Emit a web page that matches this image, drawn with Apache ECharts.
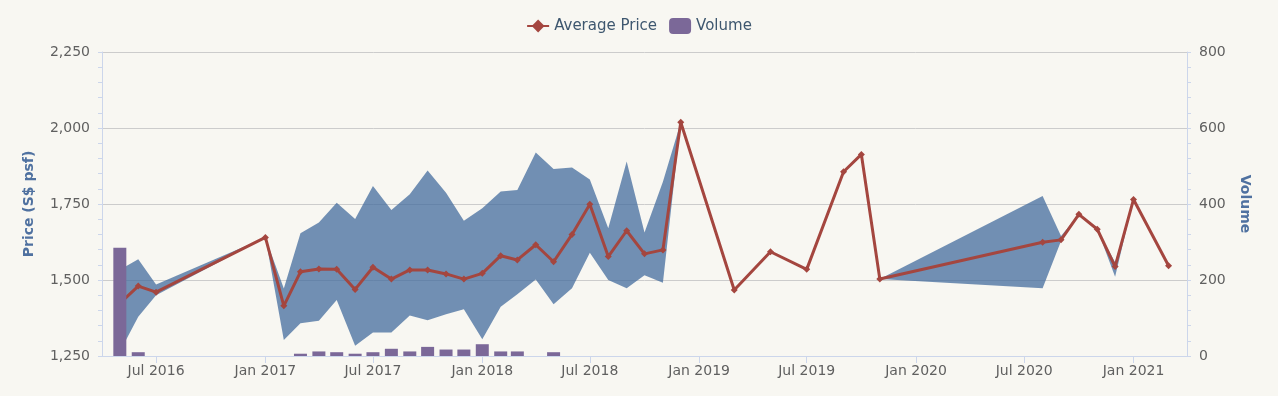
<!DOCTYPE html>
<html>
<head>
<meta charset="utf-8">
<script src="https://cdn.jsdelivr.net/npm/echarts@6/dist/echarts.min.js"></script>
<style>
  html, body { margin: 0; padding: 0; background: #f8f7f2; }
  #chart { width: 1278px; height: 396px; }
</style>
</head>
<body>
<div id="chart"></div>
<script>
// ---- Data ----
const months = ['2016-05','2016-06','2016-07','2017-01','2017-02','2017-03','2017-04','2017-05','2017-06','2017-07',
                '2017-08','2017-09','2017-10','2017-11','2017-12','2018-01','2018-02','2018-03','2018-04','2018-05',
                '2018-06','2018-07','2018-08','2018-09','2018-10','2018-11','2018-12','2019-03','2019-05','2019-07',
                '2019-09','2019-10','2019-11','2020-08','2020-09','2020-10','2020-11','2020-12','2021-01','2021-03'];
const avgPrice = [1423,1480,1460,1640,1415,1527,1536,1535,1469,1542,
                  1503,1533,1533,1520,1503,1522,1580,1566,1616,1560,
                  1650,1749,1577,1662,1586,1599,2019,1467,1593,1535,
                  1856,1913,1503,1624,1632,1716,1667,1544,1765,1547];
const lowPrice = [1264,1379,1450,1640,1303,1358,1366,1434,1284,1327,
                  1327,1383,1368,1387,1404,1305,1412,1453,1502,1420,
                  1473,1590,1500,1473,1516,1491,2019,1467,1593,1535,
                  1856,1913,1503,1473,1628,1716,1667,1511,1765,1547];
const highPrice = [1534,1568,1485,1640,1472,1654,1689,1754,1701,1809,
                   1730,1782,1860,1787,1695,1736,1791,1796,1919,1865,
                   1870,1831,1670,1890,1656,1823,2019,1467,1593,1535,
                   1856,1913,1503,1776,1645,1716,1667,1558,1765,1547];
const volume = [285,10,0,0,0,6,12,10,6,10,
                19,12,24,17,17,31,12,12,0,10,
                0,0,0,0,0,0,0,0,0,0,
                0,0,0,0,0,0,0,0,0,0];
const xTickDates = ['2016-07','2017-01','2017-07','2018-01','2018-07','2019-01','2019-07','2020-01','2020-07','2021-01'];
const xTickLabels = ['Jul 2016','Jan 2017','Jul 2017','Jan 2018','Jul 2018','Jan 2019','Jul 2019','Jan 2020','Jul 2020','Jan 2021'];
const xRange = ['2016-04','2021-04'];
const priceTicks = [1250, 2250, 250];
const volumeTicks = [0, 800, 200];

// ---- Helpers ----
function ts(m) { const p = m.split('-'); return Date.UTC(+p[0], +p[1] - 1, 1); }
const tickTs = xTickDates.map(ts);
function labelFor(v) {
  let best = '', bd = Infinity;
  tickTs.forEach((t, i) => { const d = Math.abs(t - v); if (d < bd) { bd = d; best = xTickLabels[i]; } });
  return bd < 86400000 * 2 ? best : '';
}

// band data is [value, time] so that the value dimension is the stacked one
const lowData = months.map((m, i) => [lowPrice[i], ts(m)]);
const diffData = months.map((m, i) => [highPrice[i] - lowPrice[i], ts(m)]);
const avgData = months.map((m, i) => [ts(m), avgPrice[i]]);
const volData = months.map((m, i) => [ts(m), volume[i]]);

const FONT = 'DejaVu Sans';
const axisLineColor = '#ccd6eb';

const chart = echarts.init(document.getElementById('chart'), null, { renderer: 'canvas' });
chart.setOption({
  backgroundColor: '#f8f7f2',
  animation: false,
  textStyle: { fontFamily: FONT },
  legend: {
    data: ['Average Price', 'Volume'],
    top: 18,
    left: 'center',
    padding: 0,
    itemWidth: 22,
    itemHeight: 16,
    itemGap: 12,
    textStyle: { fontSize: 15, color: '#3e576f', fontFamily: FONT }
  },
  grid: { left: 102, right: 91, top: 52, bottom: 40, containLabel: false },
  xAxis: {
    type: 'value',
    min: ts(xRange[0]),
    max: ts(xRange[1]),
    axisLine: { show: true, lineStyle: { color: axisLineColor, width: 1 } },
    axisTick: { show: true, length: 7, lineStyle: { color: axisLineColor }, customValues: tickTs },
    axisLabel: {
      customValues: tickTs,
      margin: 8,
      fontSize: 14,
      color: '#606060',
      fontFamily: FONT,
      formatter: function (v) { return labelFor(v); }
    },
    splitLine: { show: false }
  },
  yAxis: [
    {
      type: 'value',
      position: 'left',
      min: priceTicks[0], max: priceTicks[1], interval: priceTicks[2],
      name: 'Price (S$ psf)',
      nameLocation: 'middle',
      nameGap: 66,
      nameTextStyle: { fontSize: 14, fontWeight: 'bold', color: '#4f71a0', fontFamily: FONT },
      axisLine: { show: true, lineStyle: { color: axisLineColor } },
      axisTick: { show: true, length: 4, lineStyle: { color: axisLineColor } },
      minorTick: { show: true, splitNumber: 5, length: 4, lineStyle: { color: axisLineColor } },
      axisLabel: {
        margin: 12, fontSize: 14, color: '#606060', fontFamily: FONT,
        formatter: function (v) { return v.toLocaleString('en-US'); }
      },
      splitLine: { show: true, lineStyle: { color: '#cccccc', width: 1 } }
    },
    {
      type: 'value',
      position: 'right',
      min: volumeTicks[0], max: volumeTicks[1], interval: volumeTicks[2],
      name: 'Volume',
      nameLocation: 'middle',
      nameRotate: -90,
      nameGap: 51,
      nameTextStyle: { fontSize: 14, fontWeight: 'bold', color: '#4f71a0', fontFamily: FONT },
      axisLine: { show: true, lineStyle: { color: axisLineColor } },
      axisTick: { show: true, length: 4, lineStyle: { color: axisLineColor } },
      minorTick: { show: true, splitNumber: 5, length: 4, lineStyle: { color: axisLineColor } },
      axisLabel: { margin: 12, fontSize: 14, color: '#606060', fontFamily: FONT },
      splitLine: { show: false }
    }
  ],
  series: [
    {
      name: 'rangeLow',
      type: 'line',
      yAxisIndex: 0,
      stack: 'range',
      data: lowData,
      encode: { x: 1, y: 0 },
      symbol: 'none',
      lineStyle: { opacity: 0 },
      silent: true,
      z: 1
    },
    {
      name: 'rangeHigh',
      type: 'line',
      yAxisIndex: 0,
      stack: 'range',
      data: diffData,
      encode: { x: 1, y: 0 },
      symbol: 'none',
      lineStyle: { opacity: 0 },
      areaStyle: { color: 'rgba(66,106,156,0.74)', opacity: 1 },
      silent: true,
      z: 1
    },
    {
      name: 'Average Price',
      type: 'line',
      yAxisIndex: 0,
      data: avgData,
      symbol: 'diamond',
      symbolSize: 7,
      showAllSymbol: true,
      lineStyle: { color: '#a4463f', width: 3 },
      itemStyle: { color: '#a4463f' },
      z: 2
    },
    {
      name: 'Volume',
      type: 'bar',
      yAxisIndex: 1,
      data: volData,
      barWidth: 13,
      itemStyle: { color: '#7b6898' },
      z: 3
    }
  ]
});
</script>
</body>
</html>
